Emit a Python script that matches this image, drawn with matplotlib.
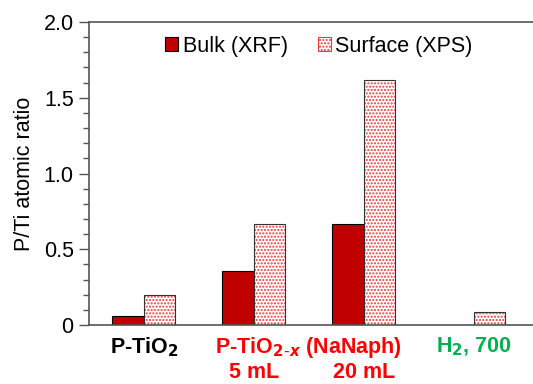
import matplotlib.pyplot as plt
import numpy as np
from matplotlib.patches import Patch
from matplotlib.ticker import MultipleLocator

plt.rcParams['font.family'] = ['Liberation Sans', 'DejaVu Sans']

# data
samples = ["P-TiO2", "5 mL", "20 mL", "H2, 700"]
bulk_xrf = [0.06, 0.357, 0.665, 0.003]
surface_xps = [0.197, 0.668, 1.617, 0.087]

x = np.arange(len(samples))
w = 0.287

fig = plt.figure(figsize=(5.33, 3.84), dpi=100)
ax = fig.add_axes([89/533, 59/384, 444/533, 303/384])

ax.bar(x - w/2, bulk_xrf, w, color='#C00000', edgecolor='black', linewidth=0.8)
# hatched surface bars: dots first, then an outline on top
ax.bar(x + w/2, surface_xps, w, color='white', edgecolor='#E83A3A', linewidth=0, hatch='.....')
ax.bar(x + w/2, surface_xps, w, fill=False, edgecolor='#333333', linewidth=0.8)

ax.set_xlim(-0.5, 3.54)
ax.set_ylim(0, 2.0)
ax.yaxis.set_major_locator(MultipleLocator(0.5))
ax.yaxis.set_minor_locator(MultipleLocator(0.1))
ax.set_yticks([0, 0.5, 1.0, 1.5, 2.0])
ax.set_yticklabels(['0', '0.5', '1.0', '1.5', '2.0'], fontsize=15.5)
ax.tick_params(axis='y', which='major', direction='out', length=7, width=1, color='#555555', pad=4)
ax.tick_params(axis='y', which='minor', direction='out', length=4, width=1, color='#555555')
ax.set_xticks([])
ax.set_ylabel("P/Ti atomic ratio", fontsize=15.5, labelpad=6)

for s in ['left', 'bottom', 'top']:
    ax.spines[s].set_color('#555555')
    ax.spines[s].set_linewidth(1.2)
ax.spines['right'].set_visible(False)

# category labels below the axis
lab_kw = dict(transform=ax.get_xaxis_transform(), ha='center', va='center',
              fontsize=15.5, fontweight='bold', clip_on=False)
y1 = -(347 - 325) / 303
y2 = -(372 - 325) / 303
ax.text(x[0], y1, "P-TiO$_\\mathbf{2}$", color='black', **lab_kw)
ax.text((x[1] + x[2]) / 2, y1, "P-TiO$_\\mathbf{2\\text{-}}$$_{\\boldsymbol{x}}$ (NaNaph)", color='#FF0000', **lab_kw)
ax.text(x[1], y2, samples[1], color='#FF0000', **lab_kw)
ax.text(x[2], y2, samples[2], color='#FF0000', **lab_kw)
ax.text(x[3], y1, "H$_\\mathbf{2}$, 700", color='#00B050', **lab_kw)

handles = [Patch(facecolor='#C00000', edgecolor='black', linewidth=0.8),
           Patch(facecolor='white', edgecolor='#E83A3A', hatch='.....', linewidth=0.8)]
ax.legend(handles, ["Bulk (XRF)", "Surface (XPS)"], ncol=2, frameon=False,
          fontsize=15.5, loc='center', bbox_to_anchor=(0.518, 0.92),
          handlelength=0.6, handleheight=0.6, handletextpad=0.2, columnspacing=1.4)

plt.savefig("out.png", dpi=100)
plt.close()
